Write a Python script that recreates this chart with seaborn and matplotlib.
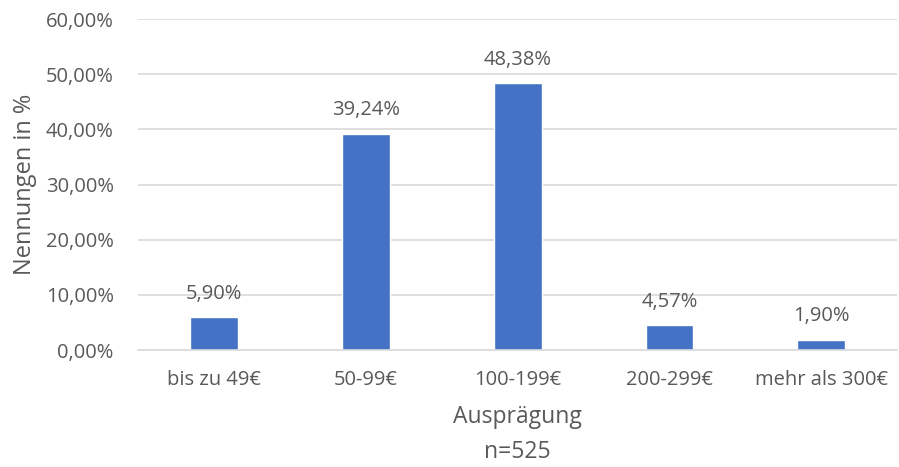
import matplotlib
matplotlib.use("Agg")
import matplotlib.pyplot as plt
import seaborn as sns
import pandas as pd
from matplotlib.ticker import FuncFormatter

# Daten
kategorien = ["bis zu 49€", "50-99€", "100-199€", "200-299€", "mehr als 300€"]
anteile = [5.90, 39.24, 48.38, 4.57, 1.90]
y_ticks = [0, 10, 20, 30, 40, 50, 60]

TEXT = "#595959"
BAR = "#4472C4"
GRID = "#d9d9d9"

sns.set_style("white")
plt.rcParams["font.family"] = ["Open Sans", "DejaVu Sans"]

df = pd.DataFrame({"Kategorie": kategorien, "Anteil": anteile})

fig = plt.figure(figsize=(8.99, 4.67), dpi=100)
ax = fig.add_axes([0.1535, 0.2505, 0.8445, 0.7085])

sns.barplot(data=df, x="Kategorie", y="Anteil", color=BAR, width=0.315,
            saturation=1, ax=ax)

ax.set_ylim(0, 60)
ax.set_yticks(y_ticks)
ax.yaxis.set_major_formatter(FuncFormatter(lambda v, p: f"{v:.2f}%".replace(".", ",")))
ax.grid(axis="y", color=GRID, linewidth=1.2)
ax.set_axisbelow(True)
for s in ["top", "right", "left"]:
    ax.spines[s].set_visible(False)
ax.spines["bottom"].set_color(GRID)
ax.spines["bottom"].set_linewidth(1.2)
ax.tick_params(axis="both", length=0, colors=TEXT, labelsize=14.5)
ax.tick_params(axis="x", pad=14.5)
ax.tick_params(axis="y", pad=17.5)

for i, v in enumerate(anteile):
    ax.annotate(f"{v:.2f}%".replace(".", ","), (i, v), xytext=(0, 9.5),
                textcoords="offset points", ha="center", va="bottom",
                color=TEXT, fontsize=14.5)

ax.set_xlabel("Ausprägung\nn=525", color=TEXT, fontsize=16.5, labelpad=11,
              linespacing=1.6)
ax.set_ylabel("Nennungen in %", color=TEXT, fontsize=17, labelpad=6)

fig.savefig("out.png", dpi=100)
